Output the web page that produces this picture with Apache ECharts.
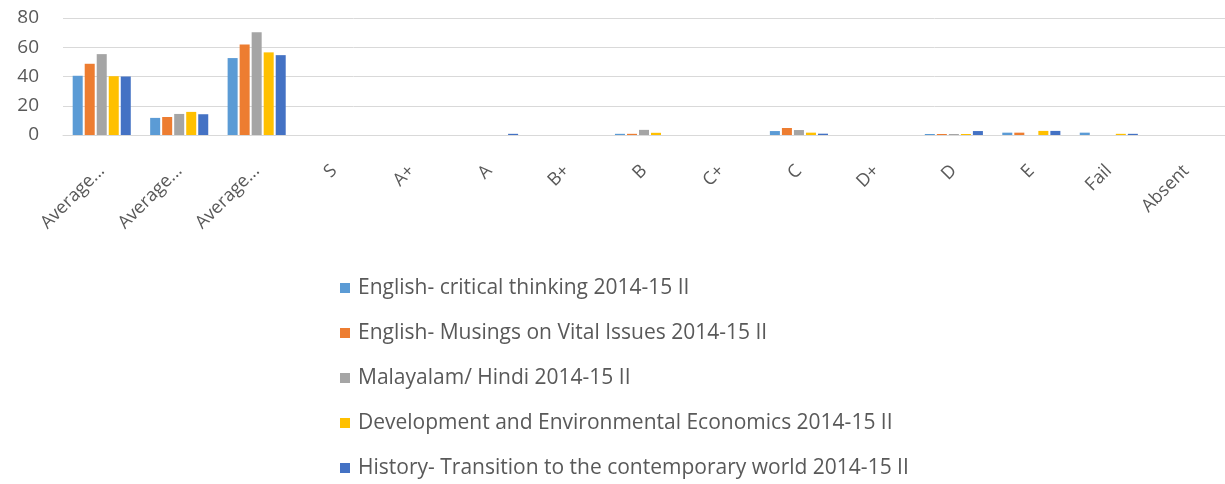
<!DOCTYPE html>
<html>
<head>
<meta charset="utf-8">
<script src="https://cdn.jsdelivr.net/npm/echarts@6/dist/echarts.min.js"></script>
<style>
html,body{margin:0;padding:0;background:#fff;}
#chart{width:1225px;height:484px;}
</style>
</head>
<body>
<div id="chart"></div>
<script>
const categories = ["Average...", "Average...", "Average...", "S", "A+", "A", "B+", "B", "C+", "C", "D+", "D", "E", "Fail", "Absent"];
const seriesNames = [
  "English- critical thinking 2014-15 II",
  "English- Musings on Vital Issues 2014-15 II",
  "Malayalam/ Hindi 2014-15 II",
  "Development and Environmental Economics 2014-15 II",
  "History- Transition to the contemporary world 2014-15 II"
];
const englishCritical = [40.5, 11.7, 52.6, 0, 0, 0, 0, 0.8, 0, 2.7, 0, 0.7, 1.6, 1.6, 0];
const englishMusings  = [48.7, 12.3, 61.9, 0, 0, 0, 0, 0.8, 0, 4.8, 0, 0.7, 1.6, 0, 0];
const malayalamHindi  = [55.3, 14.4, 70.2, 0, 0, 0, 0, 3.5, 0, 3.4, 0, 0.7, 0, 0, 0];
const devEnvEconomics = [40.2, 15.8, 56.5, 0, 0, 0, 0, 1.5, 0, 1.6, 0, 0.7, 2.8, 0.8, 0];
const historyTransition = [40.0, 14.2, 54.6, 0, 0, 0.8, 0, 0, 0, 0.9, 0, 2.7, 2.8, 0.8, 0];
const yTicks = [0, 20, 40, 60, 80];
const colors = ["#5B9BD5", "#ED7D31", "#A5A5A5", "#FFC000", "#4472C4"];

const seriesData = [englishCritical, englishMusings, malayalamHindi, devEnvEconomics, historyTransition];
const FONT = "'Open Sans', sans-serif";

const chart = echarts.init(document.getElementById('chart'), null, {renderer: 'canvas'});
chart.setOption({
  animation: false,
  color: colors,
  grid: {left: 63, right: 0, top: 18, bottom: 349, containLabel: false},
  legend: {
    orient: 'vertical',
    left: 340,
    top: 277,
    padding: 0,
    itemWidth: 10,
    itemHeight: 10,
    itemGap: 23,
    icon: 'rect',
    textStyle: {color: '#595959', fontSize: 21, fontFamily: FONT, lineHeight: 22, padding: [0, 0, 0, 3]},
    data: seriesNames
  },
  xAxis: {
    type: 'category',
    data: categories,
    axisLine: {show: true, lineStyle: {color: '#D9D9D9', width: 1}},
    axisTick: {show: false},
    axisLabel: {
      interval: 0,
      rotate: 45,
      margin: 33,
      color: '#595959',
      fontSize: 18,
      fontFamily: FONT
    }
  },
  yAxis: {
    type: 'value',
    min: yTicks[0],
    max: yTicks[yTicks.length - 1],
    interval: 20,
    axisLine: {show: false},
    axisTick: {show: false},
    splitLine: {lineStyle: {color: '#D9D9D9', width: 1}},
    axisLabel: {color: '#595959', fontSize: 19, fontFamily: FONT, margin: 24}
  },
  series: seriesNames.map((name, i) => ({
    name: name,
    type: 'bar',
    data: seriesData[i],
    barGap: '20%',
    barCategoryGap: '25%',
    itemStyle: {color: colors[i]}
  }))
});
</script>
</body>
</html>
